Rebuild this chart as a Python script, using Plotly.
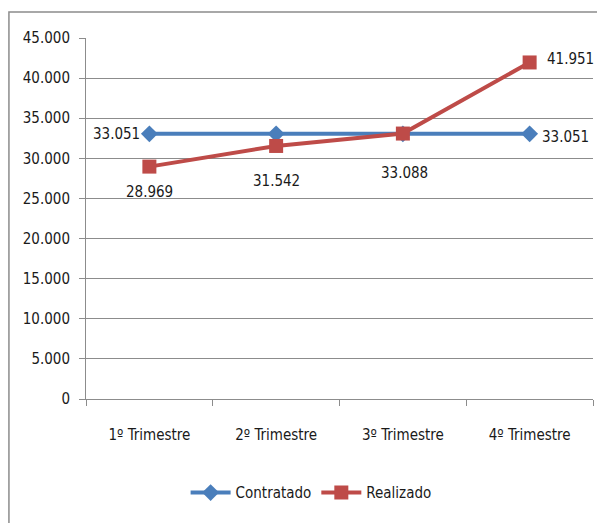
import plotly.graph_objects as go

categories = ["1º Trimestre", "2º Trimestre", "3º Trimestre", "4º Trimestre"]
contratado = [33051, 33051, 33051, 33051]
realizado = [28969, 31542, 33088, 41951]
contratado_labels = ["33.051", "", "", "33.051"]
realizado_labels = ["28.969", "31.542", "33.088", "41.951"]

FONT = "DejaVu Sans Condensed, Liberation Sans Narrow, sans-serif"
BLUE = "#4A7EBB"
RED = "#BE4B48"
TEXT = "#1a1a1a"

fig = go.Figure()
fig.add_trace(go.Scatter(
    x=categories, y=contratado, name="Contratado", mode="lines+markers",
    line=dict(color=BLUE, width=4),
    marker=dict(symbol="diamond", size=13, color=BLUE),
))
fig.add_trace(go.Scatter(
    x=categories, y=realizado, name="Realizado", mode="lines+markers",
    line=dict(color=RED, width=4),
    marker=dict(symbol="square", size=14, color=RED),
))

# data labels, placed the way the original spreadsheet chart puts them
c_style = [dict(xanchor="right", xshift=-7, yshift=0), None, None,
           dict(xanchor="left", xshift=10, yshift=-3)]
r_style = [dict(xanchor="center", xshift=0, yshift=-25),
           dict(xanchor="center", xshift=0, yshift=-35),
           dict(xanchor="center", xshift=2, yshift=-39),
           dict(xanchor="left", xshift=15, yshift=3)]
for cat, val, lab, st in zip(categories, contratado, contratado_labels, c_style):
    if lab:
        fig.add_annotation(x=cat, y=val, text=lab, showarrow=False,
                           font=dict(size=15, color=TEXT), **st)
for cat, val, lab, st in zip(categories, realizado, realizado_labels, r_style):
    fig.add_annotation(x=cat, y=val, text=lab, showarrow=False,
                       font=dict(size=15, color=TEXT), **st)

# the page body adds an 8px offset, so margins are shifted to compensate
fig.update_layout(
    width=605, height=523,
    margin=dict(l=78, r=20, t=30, b=132),
    paper_bgcolor="white", plot_bgcolor="white",
    separators=",.",
    font=dict(family=FONT, size=15, color=TEXT),
    showlegend=True,
    legend=dict(orientation="h", x=0.444, xanchor="center", y=-0.26, yanchor="middle",
                font=dict(size=15), itemwidth=40),
    shapes=[dict(type="rect", xref="paper", yref="paper",
                 x0=-0.152, x1=1.12, y0=-0.36, y1=1.072,
                 line=dict(color="#8c8c8c", width=1.5), fillcolor="rgba(0,0,0,0)", layer="below")],
)
fig.update_xaxes(
    type="category", range=[-0.5, 3.5], showgrid=False,
    showline=True, linecolor="#8c8c8c", linewidth=1,
    ticks="outside", tickson="boundaries", ticklen=6, tickcolor="#8c8c8c",
    tickfont=dict(size=15), ticklabelstandoff=22,
)
fig.update_yaxes(
    range=[0, 45000], dtick=5000, tickformat=",d",
    showgrid=True, gridcolor="#8c8c8c", gridwidth=1,
    showline=True, linecolor="#8c8c8c", linewidth=1,
    ticks="outside", ticklen=6, tickcolor="#8c8c8c",
    zeroline=False, tickfont=dict(size=15), ticklabelstandoff=6,
)

fig.write_html("out.html")
